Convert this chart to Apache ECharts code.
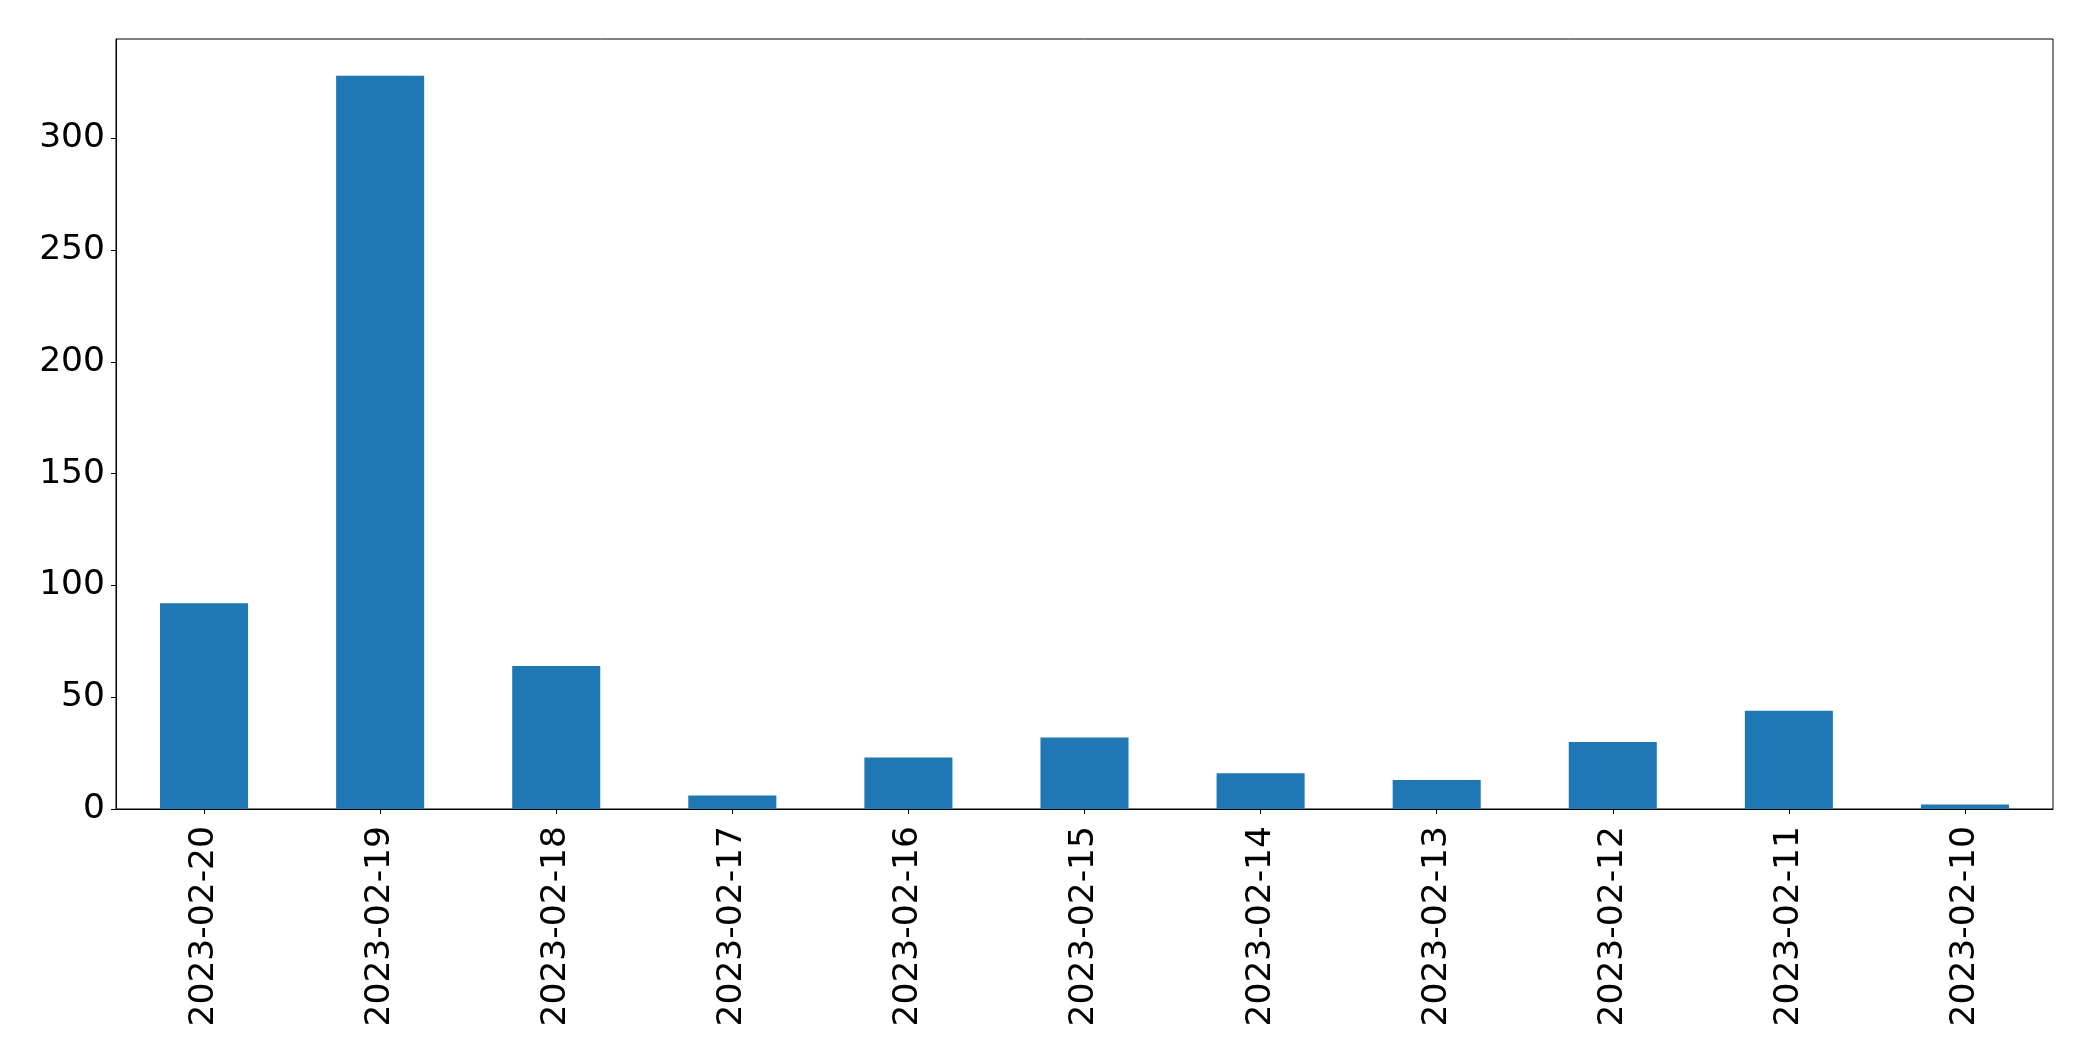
<!DOCTYPE html>
<html>
<head>
<meta charset="utf-8">
<script src="https://cdn.jsdelivr.net/npm/echarts@6/dist/echarts.min.js"></script>
<style>html,body{margin:0;padding:0;background:#fff;}#c{width:2093px;height:1061px;}</style>
</head>
<body>
<div id="c"></div>
<script>
const categories = ["2023-02-20","2023-02-19","2023-02-18","2023-02-17","2023-02-16","2023-02-15","2023-02-14","2023-02-13","2023-02-12","2023-02-11","2023-02-10"];
const counts = [92, 328, 64, 6, 23, 32, 16, 13, 30, 44, 2];
const yTicks = [0, 50, 100, 150, 200, 250, 300];
const yMax = 344.4;

const chart = echarts.init(document.getElementById('c'), null, {renderer: 'canvas'});
const font = {fontFamily: 'DejaVu Sans', fontSize: 34.5, color: '#000'};
chart.setOption({
  animation: false,
  backgroundColor: '#fff',
  grid: {left: 116, top: 39, right: 40, bottom: 252, show: true, borderColor: '#000', borderWidth: 1, containLabel: false},
  xAxis: {
    type: 'category',
    data: categories,
    axisLine: {show: true, lineStyle: {color: '#000', width: 1}},
    axisTick: {show: true, alignWithLabel: true, length: 5, lineStyle: {color: '#000', width: 1}},
    axisLabel: Object.assign({rotate: 90, margin: 17, interval: 0}, font),
    splitLine: {show: false}
  },
  yAxis: {
    type: 'value',
    min: 0,
    max: yMax,
    interval: 50,
    axisLine: {show: true, lineStyle: {color: '#000', width: 1}},
    axisTick: {show: true, length: 5, customValues: yTicks, lineStyle: {color: '#000', width: 1}},
    axisLabel: Object.assign({margin: 11, customValues: yTicks}, font),
    splitLine: {show: false}
  },
  series: [{
    type: 'bar',
    data: counts,
    barWidth: '50%',
    itemStyle: {color: '#1f77b4'}
  }]
});
</script>
</body>
</html>
